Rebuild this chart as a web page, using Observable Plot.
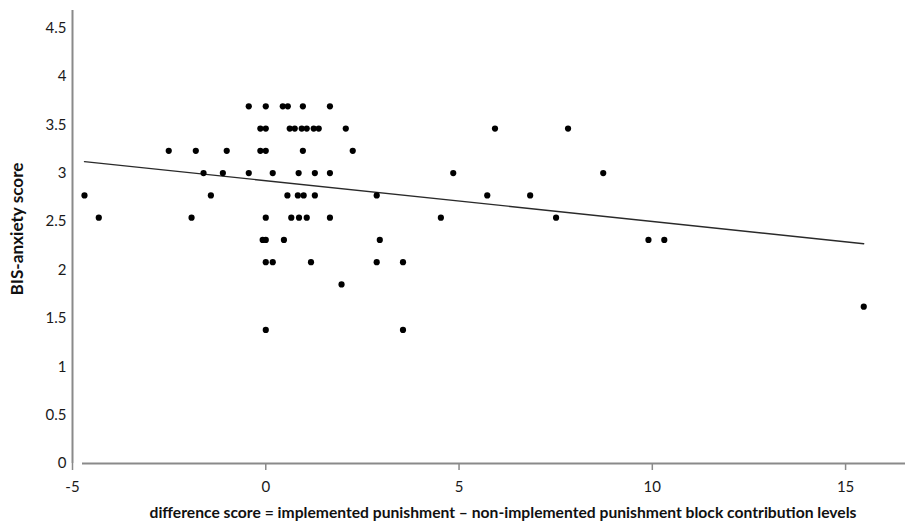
<!DOCTYPE html>
<html>
<head>
<meta charset="utf-8">
<script src="https://cdn.jsdelivr.net/npm/d3@7"></script>
<script src="https://cdn.jsdelivr.net/npm/@observablehq/plot@0.6"></script>
<style>
  html, body { margin: 0; padding: 0; background: #fff; }
  #chart { width: 909px; height: 523px; }
</style>
</head>
<body>
<div id="chart"></div>
<script>
// difference score (x) and BIS-anxiety score (y)
const diffScore = [
  -0.44, 0, 0.44, 0.57, 0.96, 1.66,
  -0.14, 0, 0.62, 0.75, 0.93, 1.06, 1.24, 1.37, 2.07, 5.93, 7.82,
  -2.51, -1.81, -1.01, -0.14, 0, 0.96, 2.25,
  -1.61, -1.11, -0.44, 0.18, 0.85, 1.27, 1.66, 4.85, 8.73,
  -4.69, -1.42, 0.56, 0.83, 0.98, 1.27, 2.87, 5.73, 6.84,
  -4.32, -1.92, 0, 0.66, 0.86, 1.06, 1.66, 4.53, 7.51,
  -0.08, 0, 0.47, 2.95, 9.9, 10.31,
  0, 0.18, 1.17, 2.87, 3.55,
  1.96,
  15.47,
  0, 3.55
];
const bisScore = [
  3.69, 3.69, 3.69, 3.69, 3.69, 3.69,
  3.46, 3.46, 3.46, 3.46, 3.46, 3.46, 3.46, 3.46, 3.46, 3.46, 3.46,
  3.23, 3.23, 3.23, 3.23, 3.23, 3.23, 3.23,
  3.00, 3.00, 3.00, 3.00, 3.00, 3.00, 3.00, 3.00, 3.00,
  2.77, 2.77, 2.77, 2.77, 2.77, 2.77, 2.77, 2.77, 2.77,
  2.54, 2.54, 2.54, 2.54, 2.54, 2.54, 2.54, 2.54, 2.54,
  2.31, 2.31, 2.31, 2.31, 2.31, 2.31,
  2.08, 2.08, 2.08, 2.08, 2.08,
  1.85,
  1.62,
  1.38, 1.38
];
const xTicks = [-5, 0, 5, 10, 15];
const yTicks = [0, 0.5, 1, 1.5, 2, 2.5, 3, 3.5, 4, 4.5];
const xTitle = "difference score = implemented punishment \u2013 non-implemented punishment block contribution levels";
const yTitle = "BIS-anxiety score";

const data = diffScore.map((d, i) => ({x: d, y: bisScore[i]}));

const font = "Lato, 'Open Sans', sans-serif";
const axisGray = "#8a8a8a";

const plot = Plot.plot({
  width: 909,
  height: 523,
  marginLeft: 72,
  marginRight: 4,
  marginTop: 10,
  marginBottom: 60,
  style: {fontFamily: font, fontSize: "15px", color: "#1a1a1a", background: "#fff"},
  x: {domain: [-5, 16.55], ticks: xTicks, label: null},
  y: {domain: [0, 4.68], ticks: yTicks, label: null},
  marks: [
    Plot.axisY({ticks: yTicks, tickSize: 0, tickPadding: 6, tickFormat: d => String(d), label: null, fontSize: 15}),
    Plot.axisX({ticks: xTicks, tickSize: 7, tickPadding: 11, stroke: axisGray, strokeWidth: 1.5, tickFormat: d => String(d), label: null, fontSize: 15}),
    Plot.ruleX([-5], {stroke: axisGray, strokeWidth: 2}),
    Plot.ruleY([0], {stroke: axisGray, strokeWidth: 2, insetLeft: 10}),
    Plot.linearRegressionY(data, {x: "x", y: "y", stroke: "#2a2a2a", strokeWidth: 1.3, ci: 0}),
    Plot.dot(data, {x: "x", y: "y", r: 3.1, fill: "#000", stroke: "none"})
  ]
});

const svg = d3.select(plot);
svg.append("text")
  .attr("x", 503).attr("y", 514)
  .attr("text-anchor", "middle").attr("dominant-baseline", "middle")
  .attr("font-family", font).attr("font-weight", "bold").attr("font-size", 15.5)
  .attr("textLength", 707).attr("lengthAdjust", "spacingAndGlyphs")
  .attr("fill", "#111")
  .text(xTitle);
svg.append("text")
  .attr("transform", "translate(19,229) rotate(-90)")
  .attr("text-anchor", "middle").attr("dominant-baseline", "middle")
  .attr("font-family", font).attr("font-weight", "bold").attr("font-size", 17)
  .attr("textLength", 133).attr("lengthAdjust", "spacingAndGlyphs")
  .attr("fill", "#111")
  .text(yTitle);

document.getElementById("chart").appendChild(plot);
</script>
</body>
</html>
